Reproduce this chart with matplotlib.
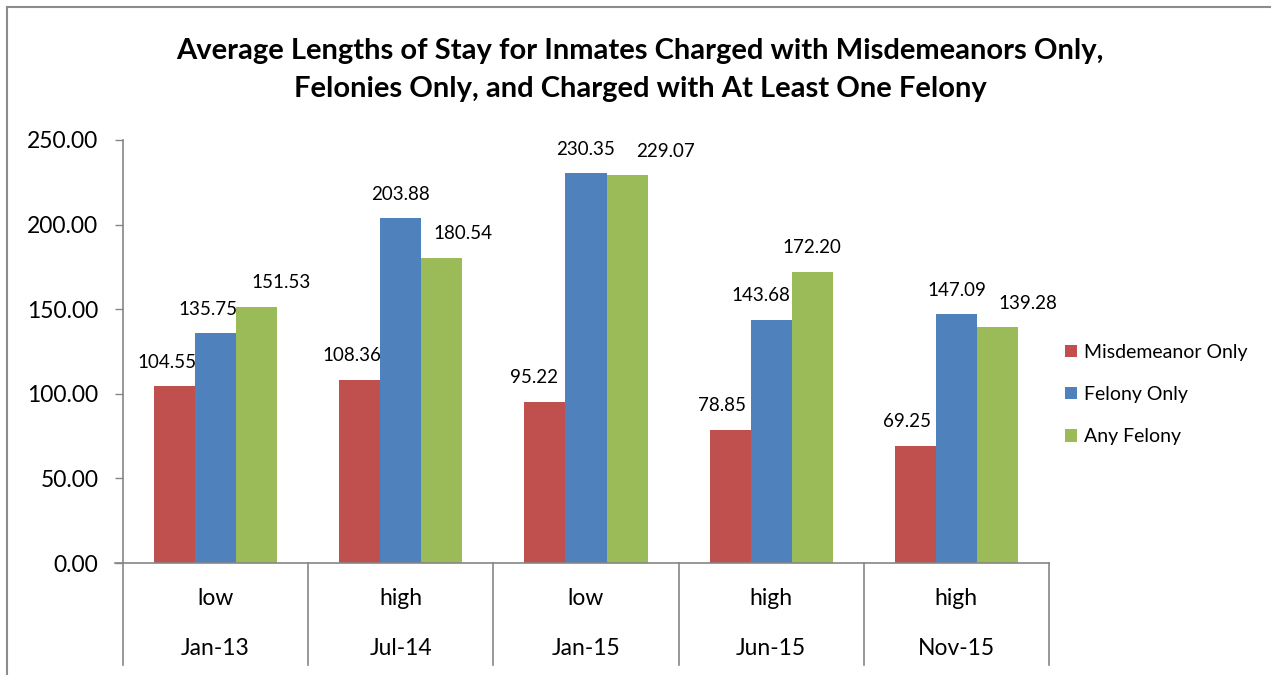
import matplotlib
matplotlib.use('Agg')
import matplotlib.pyplot as plt
from matplotlib.lines import Line2D
import numpy as np

plt.rcParams['font.family'] = ['Lato', 'DejaVu Sans']

dates = ['Jan-13', 'Jul-14', 'Jan-15', 'Jun-15', 'Nov-15']
levels = ['low', 'high', 'low', 'high', 'high']
series_names = ['Misdemeanor Only', 'Felony Only', 'Any Felony']
misdemeanor_only = [104.55, 108.36, 95.22, 78.85, 69.25]
felony_only = [135.75, 203.88, 230.35, 143.68, 147.09]
any_felony = [151.53, 180.54, 229.07, 172.20, 139.28]
yticks = [0, 50, 100, 150, 200, 250]

colors = ['#C0504D', '#4F81BD', '#9BBB59']
# sideways nudges of the value labels, in pixels (Excel moved some of them)
label_dx = [[-8, -8, -11, -8, -8],
            [-8, 0, 0, -10, 0],
            [24, 21, 38, 0, 30]]

W, H = 1271, 675
fig = plt.figure(figsize=(W / 100, H / 100), dpi=100)
ax = fig.add_axes([123 / W, (H - 563) / H, (1049 - 123) / W, (563 - 140) / H])

x = np.arange(len(dates))
bw = 0.2214
px = 0.72  # points per pixel at dpi 100
for i, (name, vals) in enumerate(zip(series_names, [misdemeanor_only, felony_only, any_felony])):
    xs = x + (i - 1) * bw
    ax.bar(xs, vals, width=bw, color=colors[i], label=name, zorder=2)
    for j, (xx, v) in enumerate(zip(xs, vals)):
        ax.annotate('{0:.2f}'.format(v), xy=(xx, v), xytext=(label_dx[i][j] * px, 24 * px),
                    textcoords='offset points', ha='center', va='center', fontsize=13.5)

ax.set_xlim(-0.5, len(dates) - 0.5)
ax.set_ylim(0, 250)
ax.set_yticks(yticks)
ax.set_yticklabels(['{0:.2f}'.format(t) for t in yticks])
ax.tick_params(axis='y', direction='out', length=8 * px, width=1, color='#868686',
               labelsize=16.5, pad=12)
ax.set_xticks([])
for s in ['top', 'right']:
    ax.spines[s].set_visible(False)
for s in ['left', 'bottom']:
    ax.spines[s].set_color('#868686')
    ax.spines[s].set_linewidth(1.2)
ax.spines['bottom'].set_bounds(-0.5, len(dates) - 0.5)

# two-level category axis
tr = ax.get_xaxis_transform()
for b in np.arange(len(dates) + 1) - 0.5:
    ax.plot([b, b], [0, -0.241], transform=tr, color='#868686', lw=1.2, clip_on=False)
ax.plot([-0.5 - 8 / 185.2, -0.5], [0, 0], transform=tr, color='#868686', lw=1.2, clip_on=False)
for j in range(len(dates)):
    ax.text(x[j], -0.083, levels[j], transform=tr, ha='center', va='center', fontsize=16.5)
    ax.text(x[j], -0.201, dates[j], transform=tr, ha='center', va='center', fontsize=16.5)

leg = ax.legend(loc='upper left', bbox_to_anchor=(1055 / W, 1 - 334 / H),
                bbox_transform=fig.transFigure, frameon=False, fontsize=14,
                handlelength=0.62, handleheight=0.62, handletextpad=0.35,
                labelspacing=1.3, borderpad=0)

fig.text(640 / W, 1 - 70 / H,
         'Average Lengths of Stay for Inmates Charged with Misdemeanors Only,\n'
         'Felonies Only, and Charged with At Least One Felony',
         ha='center', va='center', fontsize=21, fontweight='bold', linespacing=1.55)

# outer chart frame
fig.add_artist(Line2D([7 / W, 7 / W], [0, 1 - 7 / H], transform=fig.transFigure,
                      color='#8c8c8c', lw=1.5))
fig.add_artist(Line2D([7 / W, 1], [1 - 7 / H, 1 - 7 / H], transform=fig.transFigure,
                      color='#8c8c8c', lw=1.5))

fig.savefig('out.png', dpi=100)
